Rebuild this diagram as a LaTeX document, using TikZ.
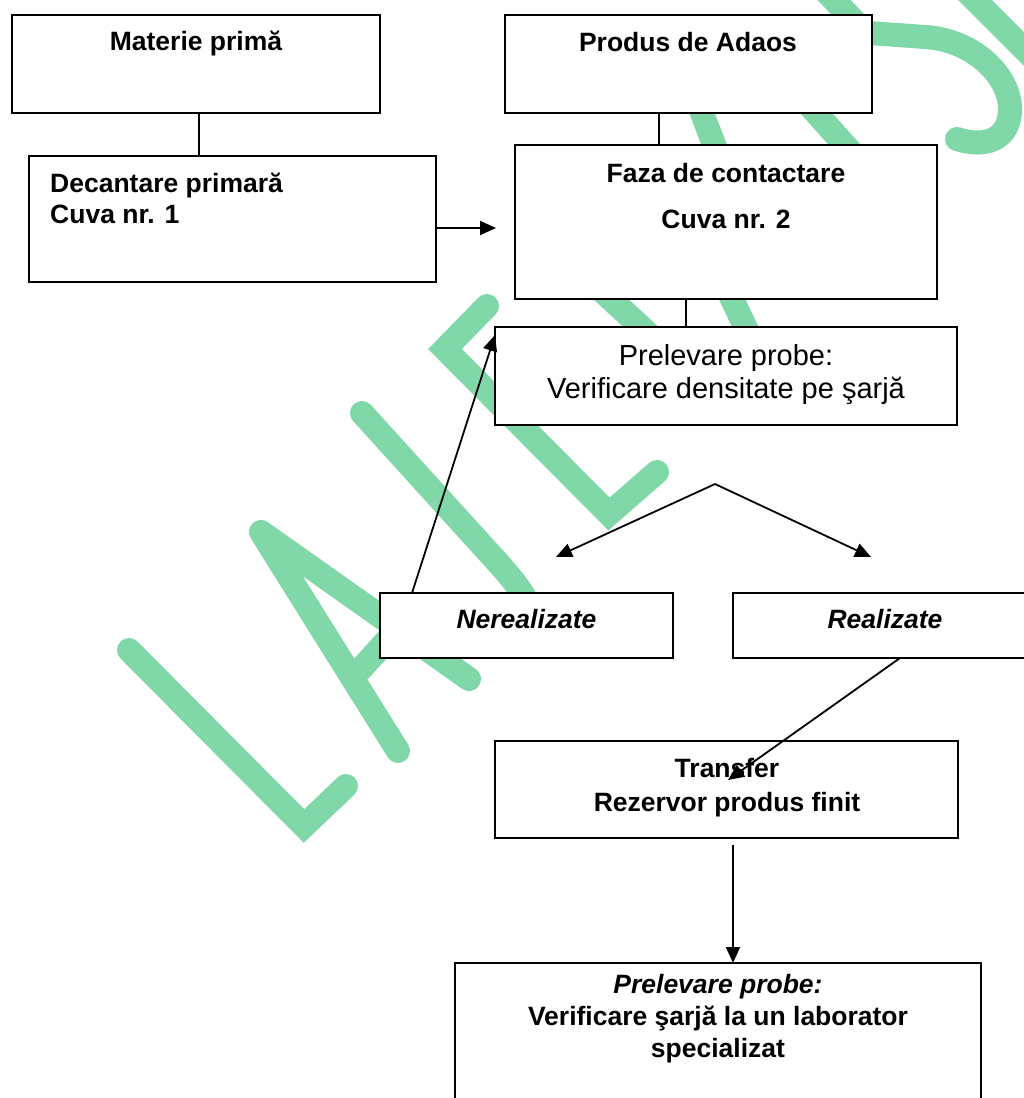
\documentclass[tikz,border=0pt]{standalone}
\usepackage{fontspec}
\setmainfont{Liberation Sans}
\usetikzlibrary{arrows.meta}
\definecolor{wm}{RGB}{128,216,168}
\begin{document}
\begin{tikzpicture}[x=1pt,y=-1pt,
  box/.style={draw=black, line width=1.8pt, fill=white, rectangle, inner sep=0pt, outer sep=0pt},
  wmark/.style={draw=wm, line width=24pt, line cap=round, line join=miter},
  wmarkr/.style={draw=wm, line width=24pt, line cap=round, line join=round},
  conn/.style={draw=black, line width=1.8pt},
  arr/.style={conn, -{Triangle[length=16pt,width=14pt]}},
  bt/.style={font=\fontsize{26.5}{30}\selectfont\bfseries, anchor=base, inner sep=0pt},
  bit/.style={font=\fontsize{26.5}{30}\selectfont\bfseries\itshape, anchor=base, inner sep=0pt},
  rt/.style={font=\fontsize{29}{33}\selectfont, anchor=base, inner sep=0pt}]
\useasboundingbox (0,0) rectangle (1024,1098);
\clip (0,0) rectangle (1024,1098);
\fill[white] (0,0) rectangle (1024,1098);

% watermark
\draw[wmark] (129,650) -- (304,826) -- (346,786);
\draw[wmarkr] (398,751) -- (261,532) -- (469,679);
\draw[wmark] (360,670) -- (400,626);
\draw[wmark] (362,413) -- (500,565) .. controls (515,582) and (528,598) .. (535,620);
\draw[wmark] (487,306) -- (445,349) -- (609,514) -- (657,472);
\draw[wmark] (588,278) -- (668,352);
\draw[wmark] (723,280) -- (761,360);
\draw[wmark] (695,95) -- (720,160);
\draw[wmark] (800,95) -- (860,162);
\draw[wmark] (815,-20) -- (855,22);
\draw[wmark] (960,-15) -- (1045,70);
\draw[wmark] (855,32) -- (925,37) .. controls (975,40) and (1012,78) .. (1010,112) .. controls (1008,140) and (985,148) .. (957,139);

% boxes
\node[box, minimum width=368pt, minimum height=98pt] (materie) at (196,64) {};
\node[box, minimum width=367pt, minimum height=98pt] (produs) at (688.5,64) {};
\node[box, minimum width=407pt, minimum height=126pt] (decant) at (232.5,219) {};
\node[box, minimum width=422pt, minimum height=154pt] (faza) at (726,222) {};
\node[box, minimum width=462pt, minimum height=98pt] (prelA) at (726,376) {};
\node[box, minimum width=293pt, minimum height=65pt] (nereal) at (526.5,625.5) {};
\node[box, minimum width=304pt, minimum height=65pt] (real) at (885,625.5) {};
\node[box, minimum width=463pt, minimum height=97pt] (transf) at (726.5,789.5) {};
\node[box, minimum width=526pt, minimum height=167pt] (prelB) at (718,1046.5) {};

% helper coordinates
\coordinate (xmd) at (199,0);
\coordinate (xpf) at (659,0);
\coordinate (xfp) at (686,0);
\coordinate (ydf) at (0,228);
\coordinate (dftip) at (496,228);
\coordinate (split) at (715,484);
\coordinate (vl) at (556,557);
\coordinate (vr) at (871,557);
\coordinate (rstart) at (900,658);
\coordinate (rtip) at (728,780);
\coordinate (tstart) at (733,845);

% connectors
\draw[conn] (xmd |- materie.south) -- (xmd |- decant.north);
\draw[conn] (xpf |- produs.south) -- (xpf |- faza.north);
\draw[conn] (xfp |- faza.south) -- (xfp |- prelA.north);
\draw[arr] (decant.east |- ydf) -- (dftip);
\draw[arr] ([xshift=32pt]nereal.north west) -- ([yshift=-8pt]prelA.north west);
\draw[arr] (split) -- (vl);
\draw[arr] (split) -- (vr);
\draw[arr] (rstart) -- (rtip);
\draw[arr] (tstart) -- (tstart |- prelB.north);

% texts
\node[bt] (tmat) at (196,50) {Materie primă};
\node[bt] (tprod) at (688,51) {Produs de Adaos};
\node[bt, anchor=base west] (tdec1) at (50,192) {Decantare primară};
\node[bt, anchor=base west] (tdec2) at (50,223) {Cuva nr. 1};
\node[bt] (tfaz1) at (726,182) {Faza de contactare};
\node[bt] (tfaz2) at (726,228) {Cuva nr. 2};
\node[rt] (tpa1) at (726,365) {Prelevare probe:};
\node[rt] (tpa2) at (726,398) {Verificare densitate pe şarjă};
\node[bit] (tner) at (526.5,628) {Nerealizate};
\node[bit] (treal) at (885,628) {Realizate};
\node[bt] (ttr1) at (727,777) {Transfer};
\node[bt] (ttr2) at (727,811) {Rezervor produs finit};
\node[bit] (tpb1) at (718,993) {Prelevare probe:};
\node[bt] (tpb2) at (718,1025) {Verificare şarjă la un laborator};
\node[bt] (tpb3) at (718,1057) {specializat};
\end{tikzpicture}
\end{document}
